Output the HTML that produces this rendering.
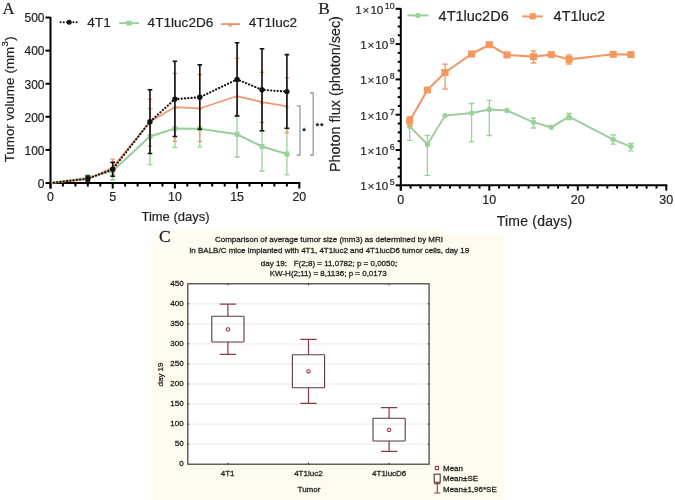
<!DOCTYPE html><html><head><meta charset="utf-8"><style>html,body{margin:0;padding:0;background:#fff;width:675px;height:500px;overflow:hidden}svg{display:block;will-change:transform} text{stroke:currentColor} .ab text{stroke-width:0.18px} .c text{stroke-width:0.28px}</style></head><body><svg width="675" height="500" viewBox="0 0 675 500">
<rect width="675" height="500" fill="#fff"/>
<path d="M151.5,230.3 H443 V234.8 H503.3 V500 H151.5 Z" fill="#fffcef"/>
<rect x="151.5" y="230.3" width="19.5" height="16" fill="#fffdf5"/>
<g class="ab">
<g stroke="#000" stroke-width="2" fill="none">
<path d="M50.5,17.0 V188.5"/>
<path d="M49.5,183.0 H300.29999999999995"/>
<path d="M45.5,183.0 H50.5"/>
<path d="M45.5,149.9 H50.5"/>
<path d="M45.5,116.8 H50.5"/>
<path d="M45.5,83.7 H50.5"/>
<path d="M45.5,50.6 H50.5"/>
<path d="M45.5,17.5 H50.5"/>
<path d="M50.5,183.0 V188.5"/>
<path d="M62.9,183.0 V186.5"/>
<path d="M75.4,183.0 V186.5"/>
<path d="M87.8,183.0 V186.5"/>
<path d="M100.3,183.0 V186.5"/>
<path d="M112.7,183.0 V188.5"/>
<path d="M125.1,183.0 V186.5"/>
<path d="M137.6,183.0 V186.5"/>
<path d="M150.0,183.0 V186.5"/>
<path d="M162.5,183.0 V186.5"/>
<path d="M174.9,183.0 V188.5"/>
<path d="M187.3,183.0 V186.5"/>
<path d="M199.8,183.0 V186.5"/>
<path d="M212.2,183.0 V186.5"/>
<path d="M224.7,183.0 V186.5"/>
<path d="M237.1,183.0 V188.5"/>
<path d="M249.5,183.0 V186.5"/>
<path d="M262.0,183.0 V186.5"/>
<path d="M274.4,183.0 V186.5"/>
<path d="M286.9,183.0 V186.5"/>
<path d="M299.3,183.0 V188.5"/>
</g>
<g font-family="Liberation Sans, sans-serif" font-size="12" fill="#222" color="#222" text-anchor="end">
<text x="44.5" y="187.8">0</text>
<text x="44.5" y="154.7">100</text>
<text x="44.5" y="121.6">200</text>
<text x="44.5" y="88.5">300</text>
<text x="44.5" y="55.4">400</text>
<text x="44.5" y="22.3">500</text>
</g>
<g font-family="Liberation Sans, sans-serif" font-size="12.4" fill="#222" color="#222" text-anchor="middle">
<text x="50.5" y="200.6">0</text>
<text x="112.7" y="200.6">5</text>
<text x="174.9" y="200.6">10</text>
<text x="237.1" y="200.6">15</text>
<text x="299.3" y="200.6">20</text>
</g>
<text x="175.5" y="220.6" font-family="Liberation Sans, sans-serif" font-size="13" fill="#222" color="#222" text-anchor="middle">Time (days)</text>
<text transform="translate(13.6,99.3) rotate(-90)" font-family="Liberation Sans, sans-serif" font-size="13.3" fill="#222" color="#222" text-anchor="middle">Tumor volume <tspan dx="0.6">(mm</tspan><tspan font-size="9.6" dy="-5.8" dx="0.2">3</tspan><tspan dy="5.8" dx="0.4">)</tspan></text>
<text x="2.6" y="13.5" font-family="Liberation Serif, serif" font-size="16.6" fill="#222" color="#222">A</text>
<path d="M87.8,174.8 V181 M85.2,174.8 H90.4 M85.2,181 H90.4" stroke="#98d498" stroke-width="1.3" fill="none"/>
<path d="M112.7,163 V180 M110.1,163 H115.3 M110.1,180 H115.3" stroke="#98d498" stroke-width="1.3" fill="none"/>
<path d="M150.0,108.6 V164.6 M147.4,108.6 H152.6 M147.4,164.6 H152.6" stroke="#98d498" stroke-width="1.3" fill="none"/>
<path d="M174.9,107.3 V147.3 M172.3,107.3 H177.5 M172.3,147.3 H177.5" stroke="#98d498" stroke-width="1.3" fill="none"/>
<path d="M199.8,108.6 V146.8 M197.2,108.6 H202.4 M197.2,146.8 H202.4" stroke="#98d498" stroke-width="1.3" fill="none"/>
<path d="M237.1,116.3 V157 M234.5,116.3 H239.7 M234.5,157 H239.7" stroke="#98d498" stroke-width="1.3" fill="none"/>
<path d="M262.0,131 V171 M259.4,131 H264.6 M259.4,171 H264.6" stroke="#98d498" stroke-width="1.3" fill="none"/>
<path d="M286.9,128.6 V174.8 M284.3,128.6 H289.5 M284.3,174.8 H289.5" stroke="#98d498" stroke-width="1.3" fill="none"/>
<path d="M50.5,183.0 L87.8,177.8 L112.7,171.0 L150.0,136.5 L174.9,128.6 L199.8,128.7 L237.1,134.3 L262.0,146.5 L286.9,154.0" stroke="#9ccd9c" stroke-width="2" fill="none"/>
<rect x="85.3" y="175.3" width="5" height="5" fill="#98d498"/>
<rect x="110.2" y="168.5" width="5" height="5" fill="#98d498"/>
<rect x="147.5" y="134.0" width="5" height="5" fill="#98d498"/>
<rect x="172.4" y="126.1" width="5" height="5" fill="#98d498"/>
<rect x="197.3" y="126.19999999999999" width="5" height="5" fill="#98d498"/>
<rect x="234.6" y="131.8" width="5" height="5" fill="#98d498"/>
<rect x="259.5" y="144.0" width="5" height="5" fill="#98d498"/>
<rect x="284.4" y="151.5" width="5" height="5" fill="#98d498"/>
<path d="M87.8,176.5 V181 M85.5,176.5 H90.1 M85.5,181 H90.1" stroke="#f0956a" stroke-width="1.2" fill="none"/>
<path d="M112.7,159.2 V175 M110.4,159.2 H115.0 M110.4,175 H115.0" stroke="#f0956a" stroke-width="1.2" fill="none"/>
<path d="M150.0,99.2 V146.1 M147.7,99.2 H152.3 M147.7,146.1 H152.3" stroke="#f0956a" stroke-width="1.2" fill="none"/>
<path d="M174.9,73.3 V141.3 M172.6,73.3 H177.2 M172.6,141.3 H177.2" stroke="#f0956a" stroke-width="1.2" fill="none"/>
<path d="M199.8,74.7 V141.3 M197.5,74.7 H202.1 M197.5,141.3 H202.1" stroke="#f0956a" stroke-width="1.2" fill="none"/>
<path d="M237.1,58.3 V115 M234.8,58.3 H239.4 M234.8,115 H239.4" stroke="#f0956a" stroke-width="1.2" fill="none"/>
<path d="M262.0,72.3 V122.4 M259.7,72.3 H264.3 M259.7,122.4 H264.3" stroke="#f0956a" stroke-width="1.2" fill="none"/>
<path d="M286.9,77.8 V132.8 M284.6,77.8 H289.2 M284.6,132.8 H289.2" stroke="#f0956a" stroke-width="1.2" fill="none"/>
<path d="M50.5,183.0 L87.8,179.2 L112.7,167.5 L150.0,121.7 L174.9,107.1 L199.8,108.4 L237.1,96.1 L262.0,102.1 L286.9,106.2" stroke="#f0956a" stroke-width="1.6" fill="none"/>
<path d="M85.6,180.79999999999998 L87.8,177.0 L90.0,180.79999999999998 Z" fill="#f0956a"/>
<path d="M110.5,169.1 L112.7,165.3 L114.9,169.1 Z" fill="#f0956a"/>
<path d="M147.8,123.3 L150.0,119.5 L152.2,123.3 Z" fill="#f0956a"/>
<path d="M172.7,108.69999999999999 L174.9,104.89999999999999 L177.1,108.69999999999999 Z" fill="#f0956a"/>
<path d="M197.6,110.0 L199.8,106.2 L202.0,110.0 Z" fill="#f0956a"/>
<path d="M234.9,97.69999999999999 L237.1,93.89999999999999 L239.3,97.69999999999999 Z" fill="#f0956a"/>
<path d="M259.8,103.69999999999999 L262.0,99.89999999999999 L264.2,103.69999999999999 Z" fill="#f0956a"/>
<path d="M284.7,107.8 L286.9,104.0 L289.1,107.8 Z" fill="#f0956a"/>
<path d="M87.8,176 V181 M85.5,176 H90.1 M85.5,181 H90.1" stroke="#111" stroke-width="1.6" fill="none"/>
<path d="M112.7,162.3 V176.2 M110.4,162.3 H115.0 M110.4,176.2 H115.0" stroke="#111" stroke-width="1.6" fill="none"/>
<path d="M150.0,89.8 V153.5 M147.7,89.8 H152.3 M147.7,153.5 H152.3" stroke="#111" stroke-width="1.6" fill="none"/>
<path d="M174.9,61.3 V136.5 M172.6,61.3 H177.2 M172.6,136.5 H177.2" stroke="#111" stroke-width="1.6" fill="none"/>
<path d="M199.8,64.9 V129.3 M197.5,64.9 H202.1 M197.5,129.3 H202.1" stroke="#111" stroke-width="1.6" fill="none"/>
<path d="M237.1,42.8 V116 M234.8,42.8 H239.4 M234.8,116 H239.4" stroke="#111" stroke-width="1.6" fill="none"/>
<path d="M262.0,48.7 V130.7 M259.7,48.7 H264.3 M259.7,130.7 H264.3" stroke="#111" stroke-width="1.6" fill="none"/>
<path d="M286.9,54.6 V128.3 M284.6,54.6 H289.2 M284.6,128.3 H289.2" stroke="#111" stroke-width="1.6" fill="none"/>
<path d="M50.5,183.0 L87.8,178.7 L112.7,169.3 L150.0,121.7 L174.9,99.1 L199.8,97.3 L237.1,79.4 L262.0,89.8 L286.9,91.6" stroke="#111" stroke-width="2.1" stroke-dasharray="0.2 3.1" stroke-linecap="round" fill="none"/>
<circle cx="87.8" cy="178.7" r="2.7" fill="#111"/>
<circle cx="112.7" cy="169.3" r="2.7" fill="#111"/>
<circle cx="150.0" cy="121.7" r="2.7" fill="#111"/>
<circle cx="174.9" cy="99.1" r="2.7" fill="#111"/>
<circle cx="199.8" cy="97.3" r="2.7" fill="#111"/>
<circle cx="237.1" cy="79.4" r="2.7" fill="#111"/>
<circle cx="262.0" cy="89.8" r="2.7" fill="#111"/>
<circle cx="286.9" cy="91.6" r="2.7" fill="#111"/>
<path d="M60.6,22.2 H77.5" stroke="#111" stroke-width="2.1" stroke-dasharray="0.01 3.2" stroke-linecap="round"/>
<circle cx="69.2" cy="22.2" r="2.5" fill="#111"/>
<path d="M119.2,23.1 H139" stroke="#98d498" stroke-width="2"/>
<rect x="126.4" y="20.6" width="5.2" height="5" fill="#98d498"/>
<path d="M220.7,24.1 H240" stroke="#f0956a" stroke-width="1.8"/>
<path d="M228,26.4 L230.2,22.4 L232.4,26.4 Z" fill="#f0956a"/>
<g font-family="Liberation Sans, sans-serif" font-size="13.6" fill="#222" color="#222">
<text x="87.3" y="27.2">4T1</text><text x="147.6" y="27.2">4T1luc2D6</text><text x="248.7" y="27.2">4T1luc2</text>
</g>
<g stroke="#999" stroke-width="1.3" fill="none">
<path d="M296.8,105.8 H300 V155 H296.8"/>
<path d="M310,93 H313.2 V155 H310"/>
</g>
<g fill="#222" color="#222">
<polygon points="304.10,127.30 304.75,128.71 306.29,128.89 305.15,129.94 305.45,131.46 304.10,130.70 302.75,131.46 303.05,129.94 301.91,128.89 303.45,128.71"/>
<polygon points="317.40,122.40 318.05,123.81 319.59,123.99 318.45,125.04 318.75,126.56 317.40,125.80 316.05,126.56 316.35,125.04 315.21,123.99 316.75,123.81"/>
<polygon points="321.80,122.40 322.45,123.81 323.99,123.99 322.85,125.04 323.15,126.56 321.80,125.80 320.45,126.56 320.75,125.04 319.61,123.99 321.15,123.81"/>
</g>
<g stroke="#000" stroke-width="2" fill="none">
<path d="M400.8,8.300000000000011 V190.60000000000002"/>
<path d="M399.8,185.3 H667.3"/>
<path d="M395.6,185.3 H400.8"/>
<path d="M397.7,176.5 H400.8"/>
<path d="M397.7,167.7 H400.8"/>
<path d="M397.7,158.8 H400.8"/>
<path d="M395.6,150.0 H400.8"/>
<path d="M397.7,141.2 H400.8"/>
<path d="M397.7,132.4 H400.8"/>
<path d="M397.7,123.5 H400.8"/>
<path d="M395.6,114.7 H400.8"/>
<path d="M397.7,105.9 H400.8"/>
<path d="M397.7,97.1 H400.8"/>
<path d="M397.7,88.2 H400.8"/>
<path d="M395.6,79.4 H400.8"/>
<path d="M397.7,70.6 H400.8"/>
<path d="M397.7,61.8 H400.8"/>
<path d="M397.7,52.9 H400.8"/>
<path d="M395.6,44.1 H400.8"/>
<path d="M397.7,35.3 H400.8"/>
<path d="M397.7,26.5 H400.8"/>
<path d="M397.7,17.6 H400.8"/>
<path d="M395.6,8.8 H400.8"/>
<path d="M400.8,185.3 V190.60000000000002"/>
<path d="M410.6,185.3 V188.60000000000002"/>
<path d="M420.5,185.3 V188.60000000000002"/>
<path d="M430.3,185.3 V188.60000000000002"/>
<path d="M440.1,185.3 V188.60000000000002"/>
<path d="M450.0,185.3 V188.60000000000002"/>
<path d="M459.8,185.3 V188.60000000000002"/>
<path d="M469.6,185.3 V188.60000000000002"/>
<path d="M479.5,185.3 V188.60000000000002"/>
<path d="M489.3,185.3 V190.60000000000002"/>
<path d="M499.1,185.3 V188.60000000000002"/>
<path d="M509.0,185.3 V188.60000000000002"/>
<path d="M518.8,185.3 V188.60000000000002"/>
<path d="M528.6,185.3 V188.60000000000002"/>
<path d="M538.5,185.3 V188.60000000000002"/>
<path d="M548.3,185.3 V188.60000000000002"/>
<path d="M558.1,185.3 V188.60000000000002"/>
<path d="M568.0,185.3 V188.60000000000002"/>
<path d="M577.8,185.3 V190.60000000000002"/>
<path d="M587.6,185.3 V188.60000000000002"/>
<path d="M597.5,185.3 V188.60000000000002"/>
<path d="M607.3,185.3 V188.60000000000002"/>
<path d="M617.1,185.3 V188.60000000000002"/>
<path d="M627.0,185.3 V188.60000000000002"/>
<path d="M636.8,185.3 V188.60000000000002"/>
<path d="M646.6,185.3 V188.60000000000002"/>
<path d="M656.5,185.3 V188.60000000000002"/>
<path d="M666.3,185.3 V190.60000000000002"/>
</g>
<g font-family="Liberation Sans, sans-serif" font-size="11.6" fill="#222" color="#222" text-anchor="end">
<text x="394.6" y="190.3">1<tspan dx="0.7">×</tspan><tspan dx="1.1">10</tspan><tspan font-size="8.8" dx="1.5" dy="-5">5</tspan></text>
<text x="394.6" y="155.0">1<tspan dx="0.7">×</tspan><tspan dx="1.1">10</tspan><tspan font-size="8.8" dx="1.5" dy="-5">6</tspan></text>
<text x="394.6" y="119.7">1<tspan dx="0.7">×</tspan><tspan dx="1.1">10</tspan><tspan font-size="8.8" dx="1.5" dy="-5">7</tspan></text>
<text x="394.6" y="84.4">1<tspan dx="0.7">×</tspan><tspan dx="1.1">10</tspan><tspan font-size="8.8" dx="1.5" dy="-5">8</tspan></text>
<text x="394.6" y="49.1">1<tspan dx="0.7">×</tspan><tspan dx="1.1">10</tspan><tspan font-size="8.8" dx="1.5" dy="-5">9</tspan></text>
<text x="394.6" y="13.8">1<tspan dx="0.7">×</tspan><tspan dx="1.1">10</tspan><tspan font-size="8.8" dx="1.5" dy="-5">10</tspan></text>
</g>
<g font-family="Liberation Sans, sans-serif" font-size="12.5" fill="#222" color="#222" text-anchor="middle">
<text x="400.8" y="203.6">0</text>
<text x="489.3" y="203.6">10</text>
<text x="577.8" y="203.6">20</text>
<text x="666.3" y="203.6">30</text>
</g>
<text x="534.6" y="225.6" font-family="Liberation Sans, sans-serif" font-size="14" fill="#222" color="#222" text-anchor="middle" letter-spacing="0.2">Time (days)</text>
<text transform="translate(339.8,94.1) rotate(-90)" font-family="Liberation Sans, sans-serif" font-size="14.4" fill="#222" color="#222" text-anchor="middle">Photon flux (photon/sec)</text>
<text transform="translate(318.3,14.2) scale(1.1,1.02)" font-family="Liberation Serif, serif" font-size="15.8" fill="#222" color="#222">B</text>
<path d="M409.7,117 V140.3 M406.9,117 H412.5 M406.9,140.3 H412.5" stroke="#98d498" stroke-width="1.3" fill="none"/>
<path d="M427.4,135.5 V175.4 M424.6,135.5 H430.2 M424.6,175.4 H430.2" stroke="#98d498" stroke-width="1.3" fill="none"/>
<path d="M471.6,103.5 V141.9 M468.8,103.5 H474.4 M468.8,141.9 H474.4" stroke="#98d498" stroke-width="1.3" fill="none"/>
<path d="M489.3,100.3 V135.5 M486.5,100.3 H492.1 M486.5,135.5 H492.1" stroke="#98d498" stroke-width="1.3" fill="none"/>
<path d="M533.5,118 V128 M530.8,118 H536.3 M530.8,128 H536.3" stroke="#98d498" stroke-width="1.3" fill="none"/>
<path d="M569.0,113.4 V119.5 M566.2,113.4 H571.8 M566.2,119.5 H571.8" stroke="#98d498" stroke-width="1.3" fill="none"/>
<path d="M613.2,134.9 V144.1 M610.4,134.9 H616.0 M610.4,144.1 H616.0" stroke="#98d498" stroke-width="1.3" fill="none"/>
<path d="M630.9,143.3 V150.8 M628.1,143.3 H633.7 M628.1,150.8 H633.7" stroke="#98d498" stroke-width="1.3" fill="none"/>
<path d="M409.7,126.4 L427.4,144.4 L445.1,115.6 L471.6,113.1 L489.3,109.5 L507.0,110.5 L533.5,122.3 L551.2,127.3 L569.0,116.7 L613.2,139.6 L630.9,146.6" stroke="#9ccd9c" stroke-width="2" fill="none"/>
<circle cx="409.7" cy="126.4" r="2.7" fill="#98d498"/>
<circle cx="427.4" cy="144.4" r="2.7" fill="#98d498"/>
<circle cx="445.1" cy="115.6" r="2.7" fill="#98d498"/>
<circle cx="471.6" cy="113.1" r="2.7" fill="#98d498"/>
<circle cx="489.3" cy="109.5" r="2.7" fill="#98d498"/>
<circle cx="507.0" cy="110.5" r="2.7" fill="#98d498"/>
<circle cx="533.5" cy="122.3" r="2.7" fill="#98d498"/>
<circle cx="551.2" cy="127.3" r="2.7" fill="#98d498"/>
<circle cx="569.0" cy="116.7" r="2.7" fill="#98d498"/>
<circle cx="613.2" cy="139.6" r="2.7" fill="#98d498"/>
<circle cx="630.9" cy="146.6" r="2.7" fill="#98d498"/>
<path d="M409.7,117 V126 M406.9,117 H412.5 M406.9,126 H412.5" stroke="#f4985e" stroke-width="1.3" fill="none"/>
<path d="M445.1,64.2 V89.1 M442.2,64.2 H447.9 M442.2,89.1 H447.9" stroke="#f4985e" stroke-width="1.3" fill="none"/>
<path d="M533.5,51 V63 M530.8,51 H536.3 M530.8,63 H536.3" stroke="#f4985e" stroke-width="1.3" fill="none"/>
<path d="M569.0,55 V64 M566.2,55 H571.8 M566.2,64 H571.8" stroke="#f4985e" stroke-width="1.3" fill="none"/>
<path d="M409.7,120.9 L427.4,90.0 L445.1,72.5 L471.6,54.0 L489.3,44.7 L507.0,54.9 L533.5,56.6 L551.2,54.6 L569.0,59.4 L613.2,54.3 L630.9,54.6" stroke="#ee9a68" stroke-width="2.1" fill="none"/>
<rect x="406.1" y="117.4" width="7.2" height="7" fill="#f4985e"/>
<rect x="423.8" y="86.5" width="7.2" height="7" fill="#f4985e"/>
<rect x="441.4" y="69.0" width="7.2" height="7" fill="#f4985e"/>
<rect x="468.0" y="50.5" width="7.2" height="7" fill="#f4985e"/>
<rect x="485.7" y="41.2" width="7.2" height="7" fill="#f4985e"/>
<rect x="503.4" y="51.4" width="7.2" height="7" fill="#f4985e"/>
<rect x="529.9" y="53.1" width="7.2" height="7" fill="#f4985e"/>
<rect x="547.6" y="51.1" width="7.2" height="7" fill="#f4985e"/>
<rect x="565.4" y="55.9" width="7.2" height="7" fill="#f4985e"/>
<rect x="609.6" y="50.8" width="7.2" height="7" fill="#f4985e"/>
<rect x="627.3" y="51.1" width="7.2" height="7" fill="#f4985e"/>
<path d="M407.4,15.4 H428.7" stroke="#98d498" stroke-width="2"/>
<circle cx="417.8" cy="15.4" r="2.6" fill="#98d498"/>
<path d="M522.2,16.4 H543" stroke="#f4985e" stroke-width="2"/>
<rect x="529.6" y="13.2" width="6.2" height="6.2" fill="#f4985e"/>
<g font-family="Liberation Sans, sans-serif" font-size="14.5" fill="#222" color="#222">
<text x="438.6" y="21.3">4T1luc2D6</text><text x="553.6" y="21.3">4T1luc2</text>
</g>
</g><g class="c">
<text x="159.1" y="242.4" font-family="Liberation Serif, serif" font-size="17.4" fill="#222" color="#222">C</text>
<rect x="187.8" y="283.8" width="241.3" height="180.4" fill="#fff"/>
<g stroke="#ececec" stroke-width="1">
<path d="M187.8,444.2 H429.1"/>
<path d="M187.8,424.1 H429.1"/>
<path d="M187.8,404.1 H429.1"/>
<path d="M187.8,384.0 H429.1"/>
<path d="M187.8,364.0 H429.1"/>
<path d="M187.8,343.9 H429.1"/>
<path d="M187.8,323.9 H429.1"/>
<path d="M187.8,303.8 H429.1"/>
</g>
<rect x="187.8" y="283.8" width="241.3" height="180.4" fill="none" stroke="#3a3a3a" stroke-width="1.2"/>
<g stroke="#3a3a3a" stroke-width="1">
<path d="M187.8,444.2 h1.5 M429.1,444.2 h-1.5"/>
<path d="M187.8,424.1 h1.5 M429.1,424.1 h-1.5"/>
<path d="M187.8,404.1 h1.5 M429.1,404.1 h-1.5"/>
<path d="M187.8,384.0 h1.5 M429.1,384.0 h-1.5"/>
<path d="M187.8,364.0 h1.5 M429.1,364.0 h-1.5"/>
<path d="M187.8,343.9 h1.5 M429.1,343.9 h-1.5"/>
<path d="M187.8,323.9 h1.5 M429.1,323.9 h-1.5"/>
<path d="M187.8,303.8 h1.5 M429.1,303.8 h-1.5"/>
<path d="M228.2,464.2 v-1.5 M228.2,283.8 v1.5"/>
<path d="M308.5,464.2 v-1.5 M308.5,283.8 v1.5"/>
<path d="M389,464.2 v-1.5 M389,283.8 v1.5"/>
</g>
<g font-family="Liberation Sans, sans-serif" font-size="8" fill="#1e1e1e" color="#1e1e1e" text-anchor="end">
<text x="183.6" y="465.9">0</text>
<text x="183.6" y="445.9">50</text>
<text x="183.6" y="425.8">100</text>
<text x="183.6" y="405.8">150</text>
<text x="183.6" y="385.7">200</text>
<text x="183.6" y="365.7">250</text>
<text x="183.6" y="345.6">300</text>
<text x="183.6" y="325.6">350</text>
<text x="183.6" y="305.5">400</text>
<text x="183.6" y="285.5">450</text>
</g>
<g font-family="Liberation Sans, sans-serif" font-size="8" fill="#1e1e1e" color="#1e1e1e" text-anchor="middle">
<text x="227.6" y="476">4T1</text><text x="308.4" y="476">4T1luc2</text><text x="389.2" y="476">4T1lucD6</text>
<text x="309" y="491.8">Tumor</text>
<text x="329" y="242.3">Comparison of average tumor size (mm3) as determined by MRI</text>
<text x="329.4" y="252.5">in BALB/C mice implanted with 4T1, 4T1luc2 and 4T1lucD6 tumor cells, day 19</text>
<text x="329" y="265.5" xml:space="preserve">day 19:   F(2;8) = 11,0782; p = 0,0050;</text>
<text x="328.2" y="275.7">KW-H(2;11) = 8,1136; p = 0,0173</text>
</g>
<text transform="translate(162.9,374.5) rotate(-90)" font-family="Liberation Sans, sans-serif" font-size="8" fill="#1e1e1e" color="#1e1e1e" text-anchor="middle">day 19</text>
<path d="M227.9,304.2 V316.3 M227.9,342.0 V354.3 M219.70000000000002,304.2 H236.1 M219.70000000000002,354.3 H236.1" stroke="#8a3a45" stroke-width="1.2" fill="none"/>
<rect x="211.8" y="316.3" width="32.2" height="25.7" rx="0.6" stroke="#5a3a3e" stroke-width="1.1" fill="none"/>
<rect x="226.3" y="327.8" width="3.2" height="3.2" rx="1.1" stroke="#a03545" stroke-width="1.1" fill="none"/>
<path d="M308.5,339.4 V354.8 M308.5,387.8 V403.4 M300.3,339.4 H316.7 M300.3,403.4 H316.7" stroke="#8a3a45" stroke-width="1.2" fill="none"/>
<rect x="292.4" y="354.8" width="32.2" height="33.0" rx="0.6" stroke="#5a3a3e" stroke-width="1.1" fill="none"/>
<rect x="306.9" y="369.7" width="3.2" height="3.2" rx="1.1" stroke="#a03545" stroke-width="1.1" fill="none"/>
<path d="M389.1,407.7 V418.2 M389.1,441.0 V451.4 M380.90000000000003,407.7 H397.3 M380.90000000000003,451.4 H397.3" stroke="#8a3a45" stroke-width="1.2" fill="none"/>
<rect x="373.0" y="418.2" width="32.2" height="22.8" rx="0.6" stroke="#5a3a3e" stroke-width="1.1" fill="none"/>
<rect x="387.5" y="428.2" width="3.2" height="3.2" rx="1.1" stroke="#a03545" stroke-width="1.1" fill="none"/>
<g stroke="#8a3a45" stroke-width="1.1" fill="none">
<rect x="435.3" y="466.4" width="3.2" height="3.2" stroke-width="1.1" stroke="#a03545"/>
<rect x="434.2" y="474.2" width="6" height="8" stroke="#4a3a3a"/>
<path d="M434.2,483.6 H440.4 M437.3,483.6 V493 M434.2,493 H440.4"/>
</g>
<g font-family="Liberation Sans, sans-serif" font-size="8" fill="#1e1e1e" color="#1e1e1e">
<text x="443" y="470.6">Mean</text><text x="443" y="480.8">Mean±SE</text><text x="443" y="491.5">Mean±1,96*SE</text>
</g>
</g>
</svg></body></html>
